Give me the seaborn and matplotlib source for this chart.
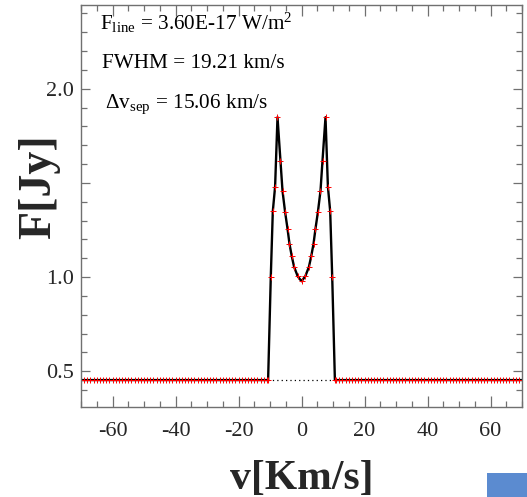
import numpy as np
import pandas as pd
import matplotlib
matplotlib.use("Agg")
import matplotlib.pyplot as plt
from matplotlib.patches import Rectangle
from matplotlib.ticker import MultipleLocator, FixedLocator, FixedFormatter
import seaborn as sns

# ---------------- data ----------------
continuum_level = 0.453
edge_v = 10.6
baseline_left_v = list(np.arange(-70, -10, 1.0)) + [-edge_v]
baseline_right_v = [edge_v] + list(np.arange(11, 71, 1.0))

profile_v = [-9.75, -9.11, -8.38, -7.62, -6.67, -6.03, -5.21, -4.44, -3.81, -3.08,
             -2.35, -1.20, 0.0, 1.20, 2.35, 3.08, 3.81, 4.44, 5.21, 6.03, 6.67,
             7.62, 8.38, 9.11, 9.75]
profile_f = [1.001, 1.349, 1.481, 1.849, 1.619, 1.458, 1.346, 1.257, 1.176, 1.110,
             1.054, 1.004, 0.978, 1.004, 1.054, 1.110, 1.176, 1.257, 1.346, 1.458,
             1.619, 1.849, 1.481, 1.349, 1.001]

xticks = [-60, -40, -20, 0, 20, 40, 60]
yticks = [0.5, 1.0, 1.5, 2.0]
ytick_labels = ["0.5", "1.0", "", "2.0"]

ann_lines = [r"F$_{\rm line}$ = 3.60E-17 W/m$^2$",
             r"FWHM = 19.21 km/s",
             r"$\Delta$v$_{\rm sep}$ = 15.06 km/s"]

# ---------------- build table ----------------
v_all = baseline_left_v + profile_v + baseline_right_v
f_all = ([continuum_level] * len(baseline_left_v) + profile_f
         + [continuum_level] * len(baseline_right_v))
df = pd.DataFrame({"v": v_all, "F": f_all})
cont_df = pd.DataFrame({"v": [-edge_v, edge_v], "F": [continuum_level] * 2})

# ---------------- style ----------------
sns.set_theme(style="ticks")
plt.rcParams["font.family"] = ["Liberation Serif", "DejaVu Serif"]
plt.rcParams["axes.unicode_minus"] = False
plt.rcParams["mathtext.fontset"] = "custom"
plt.rcParams["mathtext.rm"] = "Liberation Serif"
plt.rcParams["mathtext.it"] = "Liberation Serif:italic"
plt.rcParams["mathtext.bf"] = "Liberation Serif:bold"

W, H = 527, 497
fig = plt.figure(figsize=(W / 100, H / 100), dpi=100)
ax = fig.add_axes([81 / W, 1 - 407 / H, (522 - 81) / W, (407 - 5) / H])

sns.lineplot(data=cont_df, x="v", y="F", ax=ax, color="black", lw=0.9,
             linestyle=(0, (1, 2.5)))
sns.lineplot(data=df, x="v", y="F", ax=ax, color="black", lw=1.7,
             marker="+", markersize=5, markeredgecolor="red",
             markeredgewidth=0.7, estimator=None)

ax.set_xlim(-70, 70)
ax.set_ylim(0.31, 2.445)

ax.xaxis.set_major_locator(FixedLocator(xticks))
ax.xaxis.set_minor_locator(MultipleLocator(5))
ax.yaxis.set_major_locator(FixedLocator(yticks))
ax.yaxis.set_major_formatter(FixedFormatter(ytick_labels))
ax.yaxis.set_minor_locator(MultipleLocator(0.1))

spine_col = "#707070"
for s in ax.spines.values():
    s.set_visible(True)
    s.set_color(spine_col)
    s.set_linewidth(1.0)

ax.tick_params(axis="both", which="both", direction="in", top=True, right=True,
               color=spine_col, width=0.9)
ax.tick_params(axis="x", which="major", length=8, labelsize=16, pad=11)
ax.tick_params(axis="x", which="minor", length=4)
ax.tick_params(axis="y", which="major", length=6.5, labelsize=16, pad=5)
ax.tick_params(axis="y", which="minor", length=4)

ax.set_xlabel("v[Km/s]", fontsize=30, fontweight="bold", va="baseline")
ax.xaxis.set_label_coords(0.5, -0.203)
ax.set_ylabel("F[Jy]", fontsize=33, fontweight="bold")
ax.yaxis.set_label_coords(-0.048, 0.548)

ypos = [0.938, 0.843, 0.744]
xpos = [0.043, 0.048, 0.054]
for t, xx, yy in zip(ann_lines, xpos, ypos):
    ax.text(xx, yy, t, transform=ax.transAxes, fontsize=15.3, va="baseline",
            ha="left", color="black")

fig.patches.append(Rectangle((487 / W, 0), (W - 487) / W, 24 / H,
                             transform=fig.transFigure, facecolor="#5b8bd0",
                             edgecolor="none"))

fig.savefig("out.png", dpi=100)
